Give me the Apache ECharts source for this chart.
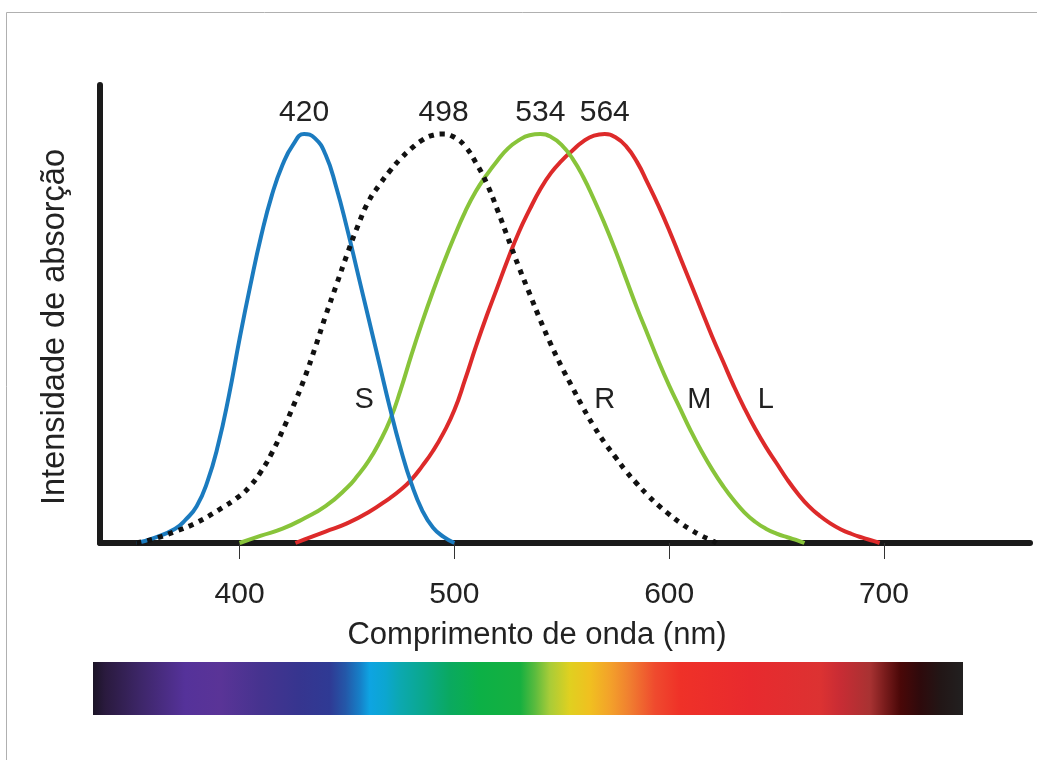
<!DOCTYPE html>
<html>
<head>
<meta charset="utf-8">
<script src="https://cdn.jsdelivr.net/npm/echarts@6/dist/echarts.min.js"></script>
<style>html,body{margin:0;padding:0;background:#fff}#c{width:1037px;height:760px}</style>
</head>
<body>
<div id="c"></div>
<script>
// ---- data ----
const tickValues = [400, 500, 600, 700];
const xTitle = 'Comprimento de onda (nm)';
const yTitle = 'Intensidade de absorção';
const seriesNames = ['L', 'M', 'S', 'R'];
const peakLabels = ['564', '534', '420', '498'];
// [wavelength nm, relative absorption]
const sCurve = [[352,0],[360,1.2],[370,3.5],[375,5.8],[380,9],[385,15],[390,24],[395,36],[400,50],[405,63],[410,75],[415,85],[420,92.5],[425,97.5],[430,100],[435,99],[440,95],[445,87],[450,77],[455,66],[460,55],[465,44],[470,33],[475,23],[480,14.5],[485,8],[490,3.8],[495,1.5],[500,0]];
const rCurve = [[352,0],[360,1],[370,2.8],[380,5],[390,8],[400,11.5],[405,14],[410,17.5],[415,22],[420,27.5],[425,33.5],[430,40],[435,47.5],[440,55.5],[445,63],[450,70.5],[455,77.5],[460,83.5],[465,87.5],[470,91],[475,94],[480,96.5],[485,98.5],[490,99.7],[495,100],[500,99.2],[505,97],[510,93],[515,88],[520,81.5],[525,74.5],[530,67.5],[535,61],[540,54.5],[545,48.5],[550,43],[555,38],[560,33],[565,28.5],[570,24.5],[575,21],[580,17.5],[585,14.5],[590,11.7],[595,9.2],[600,7],[605,5],[610,3.3],[615,1.8],[620,0.6],[622,0]];
const mCurve = [[400,0],[410,1.8],[420,3.5],[430,6],[440,9],[450,13.5],[455,16.5],[460,20],[465,24.5],[470,30],[475,37.5],[480,46],[485,54],[490,61.5],[495,68.5],[500,75],[505,81],[510,86],[515,90],[520,93.5],[525,96.5],[530,98.5],[535,99.7],[540,100],[545,99.3],[550,97.3],[555,94],[560,89.5],[565,84],[570,78],[575,71.5],[580,64.5],[585,57.5],[590,51],[595,44.5],[600,38.5],[605,33],[610,27.5],[615,22.5],[620,18],[625,14],[630,10.5],[635,7.5],[640,5.2],[645,3.5],[650,2.3],[655,1.4],[660,0.6],[663,0]];
const lCurve = [[426,0],[430,0.8],[440,2.8],[450,4.8],[460,7.5],[470,11],[475,13],[480,15.5],[485,18.8],[490,22.5],[495,27],[500,32.5],[505,40],[510,48],[515,55.5],[520,62.5],[525,69.5],[530,76],[535,81.5],[540,86.5],[545,90.5],[550,93.5],[555,96],[560,98.2],[565,99.6],[570,100],[575,99.2],[580,97],[585,93.2],[590,88],[595,82.5],[600,76.5],[605,70],[610,63.5],[615,57],[620,50.5],[625,44.5],[630,38.5],[635,33],[640,28],[645,23.5],[650,19.5],[655,15.5],[660,12],[665,9],[670,6.7],[675,4.8],[680,3.3],[685,2.2],[690,1.3],[695,0.5],[698,0]];
// curve letter annotations: [nm, value]
const letterAt = [[645, 35], [614, 35], [458, 35], [570, 35]];
// visible spectrum colours [offset, colour]
const spectrum = [[0,'#1b1426'],[0.014,'#2a1a3e'],[0.054,'#3d2668'],[0.106,'#55329a'],[0.146,'#5a3497'],[0.192,'#46338f'],[0.238,'#36358f'],[0.272,'#2f3a94'],[0.29,'#2457a8'],[0.307,'#1680c8'],[0.318,'#0ea4e2'],[0.336,'#0ca6d0'],[0.353,'#0ca8b0'],[0.382,'#0aa88a'],[0.41,'#0aa960'],[0.445,'#0cb046'],[0.491,'#16b040'],[0.508,'#5abb3e'],[0.525,'#a8cc38'],[0.548,'#e0d020'],[0.571,'#f0c020'],[0.594,'#f3a22a'],[0.617,'#f07e30'],[0.646,'#ef4a2e'],[0.675,'#ef3128'],[0.755,'#e82a2e'],[0.836,'#dc3232'],[0.859,'#c82c34'],[0.893,'#a83232'],[0.91,'#7a1c1c'],[0.928,'#4a0808'],[0.951,'#2e0a0c'],[0.974,'#221616'],[1,'#222020']];

// ---- chart ----
const curves = [lCurve, mCurve, sCurve, rCurve];
const colors = ['#dd2a2a', '#88c43a', '#1b7bbf', '#111111'];
const font = 'Liberation Sans, Arial, sans-serif';
const chart = echarts.init(document.getElementById('c'), null, {renderer: 'canvas'});

const series = curves.map((d, i) => ({
  name: seriesNames[i],
  type: 'line',
  data: d,
  smooth: 0.5,
  symbol: 'none',
  z: i === 3 ? 5 : 3 + i * 0.1,
  lineStyle: i === 3
    ? {color: colors[i], width: 5, type: [5, 6], cap: 'butt'}
    : {color: colors[i], width: 4},
  markPoint: {
    symbol: 'circle',
    symbolSize: 0,
    silent: true,
    data: [
      {type: 'max', label: {show: true, position: 'top', distance: 6, formatter: peakLabels[i], fontSize: 30, color: '#222', fontFamily: font}},
      {coord: letterAt[i], label: {show: true, position: 'inside', formatter: seriesNames[i], fontSize: 29, color: '#222', fontFamily: font}}
    ]
  }
}));

chart.setOption({
  animation: false,
  backgroundColor: '#fff',
  grid: {left: 100, right: 7, top: 85, bottom: 217},
  xAxis: {
    type: 'value', min: 335, max: 768,
    name: xTitle, nameLocation: 'middle', nameGap: 77,
    nameTextStyle: {fontSize: 31, color: '#222', fontFamily: font, padding: [0, 56, 0, 0]},
    axisLine: {show: true, onZero: false, lineStyle: {color: '#1a1a1a', width: 6}},
    axisTick: {show: true, customValues: tickValues, length: 16, lineStyle: {color: '#333', width: 1}},
    axisLabel: {show: true, customValues: tickValues, margin: 37, fontSize: 30, color: '#222', fontFamily: font},
    splitLine: {show: false}
  },
  yAxis: {
    type: 'value', min: 0, max: 112,
    name: yTitle, nameLocation: 'middle', nameGap: 28, nameRotate: 90,
    nameTextStyle: {fontSize: 32.5, color: '#222', fontFamily: font, padding: [0, 26, 0, 0]},
    axisLine: {show: true, lineStyle: {color: '#1a1a1a', width: 6}},
    axisTick: {show: false}, axisLabel: {show: false}, splitLine: {show: false}
  },
  series: series,
  graphic: [
    {type: 'rect', left: 4, top: 10, shape: {width: 1040, height: 760}, style: {fill: 'none', stroke: '#b0b0b0', lineWidth: 1}, silent: true, z: -1},
    {type: 'rect', left: 93, top: 662, shape: {width: 870, height: 53},
      style: {fill: new echarts.graphic.LinearGradient(0, 0, 1, 0, spectrum.map(s => ({offset: s[0], color: s[1]})))}, silent: true}
  ]
});
</script>
</body>
</html>
